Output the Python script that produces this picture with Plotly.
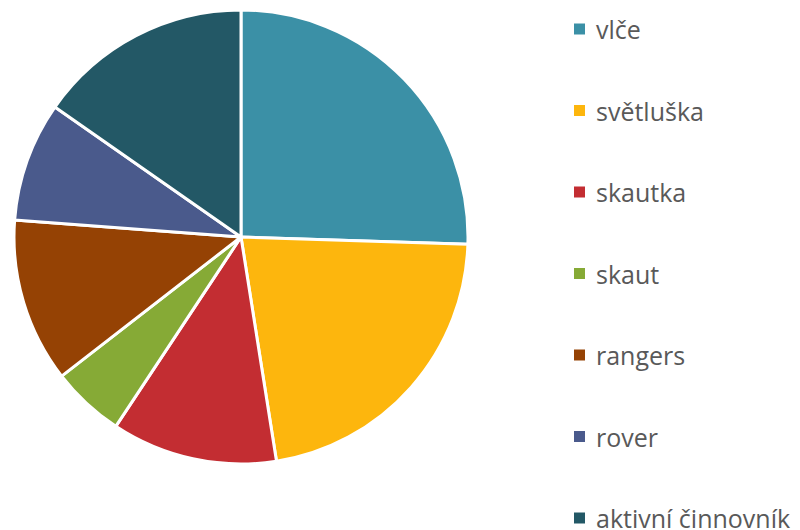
import plotly.graph_objects as go

labels = ["vlče", "světluška", "skautka", "skaut", "rangers", "rover", "aktivní činnovník"]
values = [25.5, 22.0, 11.8, 5.2, 11.7, 8.5, 15.3]
colors = ["#3B90A6", "#FDB60D", "#C32D32", "#86AA36", "#954204", "#4A5A8C", "#235866"]

W, H = 800, 530
OFF = 8  # page body margin
fig = go.Figure()
fig.add_trace(go.Pie(
    labels=labels, values=values, sort=False, direction="clockwise", rotation=0,
    marker=dict(colors=colors, line=dict(color="white", width=3)),
    textinfo="none", hoverinfo="label+value", showlegend=False,
    domain=dict(x=[(14 - OFF) / W, (468 - OFF) / W],
                y=[(H - 464 + OFF) / H, (H - 10 + OFF) / H]),
))

# Manual legend
y0, dy = 29, 81.5
for i, (lab, col) in enumerate(zip(labels, colors)):
    yc = y0 + i * dy - OFF
    fig.add_shape(type="rect", xref="paper", yref="paper",
                  x0=(574 - OFF) / W, x1=(585 - OFF) / W,
                  y0=1 - (yc + 5.5) / H, y1=1 - (yc - 5.5) / H,
                  fillcolor=col, line=dict(width=0))
    fig.add_annotation(x=(594 - OFF) / W, y=1 - yc / H, xref="paper", yref="paper",
                       text=lab, showarrow=False, xanchor="left", yanchor="middle",
                       font=dict(family="Open Sans", size=25, color="#595959"))

fig.update_layout(width=W, height=H, margin=dict(l=0, r=0, t=0, b=0),
                  paper_bgcolor="white", plot_bgcolor="white")
fig.write_html("out.html")
